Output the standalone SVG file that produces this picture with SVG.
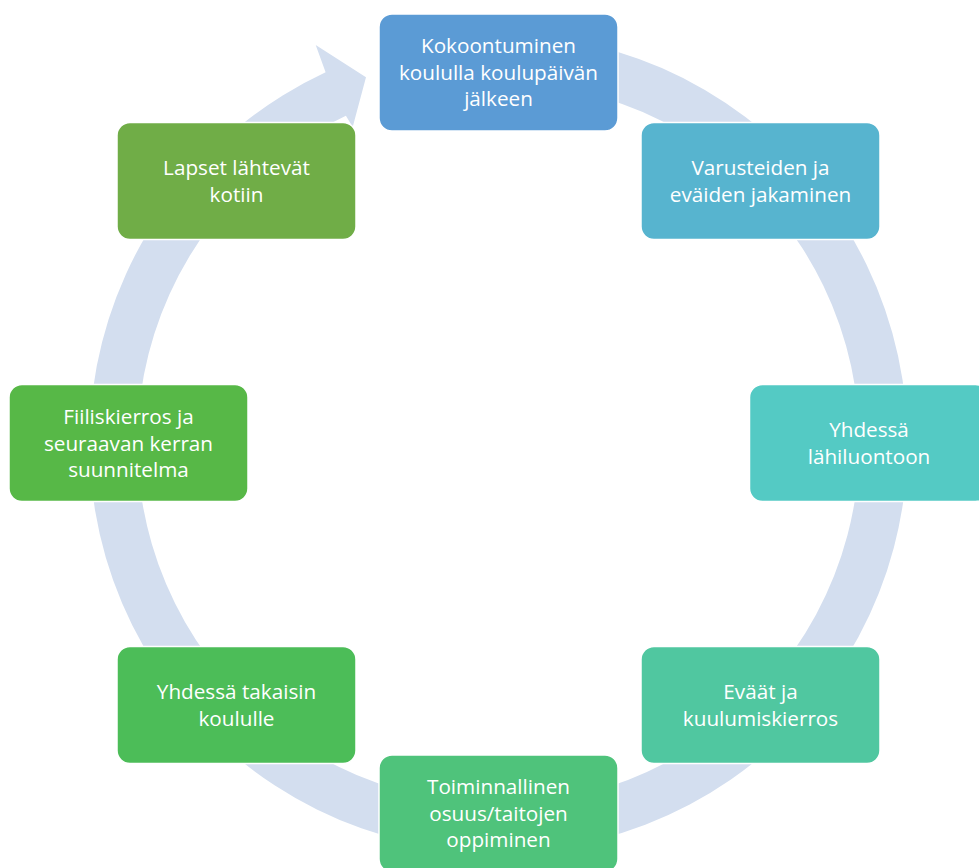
<svg xmlns="http://www.w3.org/2000/svg" width="979" height="868" viewBox="0 0 979 868">
<style>
.box{stroke:#ffffff;stroke-width:1.5}
.t{font-family:"Open Sans","Liberation Sans",Arial,sans-serif;font-size:20.7px;fill:#ffffff;text-anchor:middle}
</style>
<rect width="979" height="868" fill="#ffffff"/>
<g id="connectors">
<path d="M 325.6 72.3 L 315.7 45 L 366 77.3 L 352.7 127 L 345.9 115.8 A 361 361 0 1 0 561.2 87.5 L 569.5 40.2 A 409 409 0 1 1 325.6 72.3 Z" fill="#D3DEEF"/>
</g>
<g id="node1">
<rect class="box" x="379" y="14" width="239" height="117" rx="13" fill="#5B9BD5"/>
<text class="t" x="498.5" y="53">Kokoontuminen</text>
<text class="t" x="498.5" y="79.5">koululla koulupäivän</text>
<text class="t" x="498.5" y="106">jälkeen</text>
</g>
<g id="node2">
<rect class="box" x="641" y="122.5" width="239" height="117" rx="13" fill="#57B4CF"/>
<text class="t" x="760.5" y="175">Varusteiden ja</text>
<text class="t" x="760.5" y="201.5">eväiden jakaminen</text>
</g>
<g id="node3">
<rect class="box" x="749.5" y="384.5" width="239" height="117" rx="13" fill="#54CAC4"/>
<text class="t" x="869" y="437">Yhdessä</text>
<text class="t" x="869" y="463.5">lähiluontoon</text>
</g>
<g id="node4">
<rect class="box" x="641" y="646.5" width="239" height="117" rx="13" fill="#50C7A0"/>
<text class="t" x="760.5" y="699">Eväät ja</text>
<text class="t" x="760.5" y="725.5">kuulumiskierros</text>
</g>
<g id="node5">
<rect class="box" x="379" y="755" width="239" height="117" rx="13" fill="#4FC37B"/>
<text class="t" x="498.5" y="794">Toiminnallinen</text>
<text class="t" x="498.5" y="820.5">osuus/taitojen</text>
<text class="t" x="498.5" y="847">oppiminen</text>
</g>
<g id="node6">
<rect class="box" x="117" y="646.5" width="239" height="117" rx="13" fill="#4CBD58"/>
<text class="t" x="236.5" y="699">Yhdessä takaisin</text>
<text class="t" x="236.5" y="725.5">koululle</text>
</g>
<g id="node7">
<rect class="box" x="9" y="384.5" width="239" height="117" rx="13" fill="#57B847"/>
<text class="t" x="128.5" y="424">Fiiliskierros ja</text>
<text class="t" x="128.5" y="450.5">seuraavan kerran</text>
<text class="t" x="128.5" y="477">suunnitelma</text>
</g>
<g id="node8">
<rect class="box" x="117" y="122.5" width="239" height="117" rx="13" fill="#70AD47"/>
<text class="t" x="236.5" y="175">Lapset lähtevät</text>
<text class="t" x="236.5" y="201.5">kotiin</text>
</g>
</svg>
